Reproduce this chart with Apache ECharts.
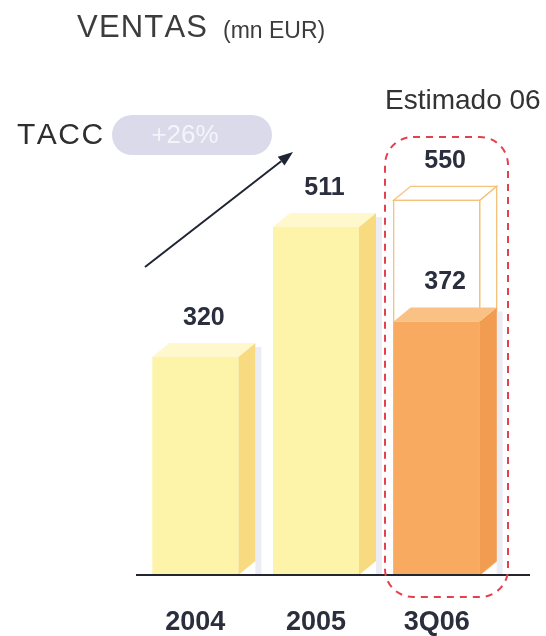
<!DOCTYPE html>
<html>
<head>
<meta charset="utf-8">
<script src="https://cdn.jsdelivr.net/npm/echarts@6/dist/echarts.min.js"></script>
<style>
  html, body { margin: 0; padding: 0; background: #ffffff; }
  #chart { width: 546px; height: 636px; }
</style>
</head>
<body>
<div id="chart"></div>
<script>
// Sales (mn EUR) per period
const categories = ['2004', '2005', '3Q06'];
const actualSales = [320, 511, 372];
const estimatedSales = [null, null, 550];
const growthText = '+26%';

const FONT = '"Liberation Sans", Arial, sans-serif';
const BAR_W = 86;   // front face width
const DX = 17;      // depth offset, horizontal
const DY = 14;      // depth offset, vertical

const palettes = [
  { front: '#fdf4aa', top: '#fef8cc', side: '#f8da80' },
  { front: '#fdf4aa', top: '#fef8cc', side: '#f8da80' },
  { front: '#f7aa60', top: '#f9c184', side: '#f29c52' }
];

function boxShapes(api, idx, value, style, labelColor) {
  const top = api.coord([idx, value]);
  const base = api.coord([idx, 0]);
  const xl = top[0] - BAR_W / 2;
  const xr = top[0] + BAR_W / 2;
  const yt = top[1];
  const yb = base[1];
  return [
    { type: 'rect', shape: { x: xr + DX, y: yt - DY + 4, width: 6, height: yb - yt + DY - 4 },
      style: { fill: '#ececf4' }, silent: true },
    { type: 'polygon', shape: { points: [[xr, yt], [xr + DX, yt - DY], [xr + DX, yb - DY], [xr, yb]] },
      style: style.side },
    { type: 'polygon', shape: { points: [[xl, yt], [xl + DX, yt - DY], [xr + DX, yt - DY], [xr, yt]] },
      style: style.top },
    { type: 'rect', shape: { x: xl, y: yt, width: BAR_W, height: yb - yt },
      style: style.front },
    { type: 'text', x: top[0] + DX / 2, y: yt - DY - 25,
      style: { text: String(value), fontFamily: FONT, fontSize: 25, fontWeight: 'bold',
               fill: labelColor, align: 'center', verticalAlign: 'middle' } }
  ];
}

// Letter-spaced text, one glyph per element
const measureCtx = document.createElement('canvas').getContext('2d');
function spacedText(text, left, top, size, spacing, color) {
  measureCtx.font = size + 'px ' + FONT;
  const items = [];
  let x = left;
  for (const ch of text) {
    items.push({ type: 'text', x: x, y: top,
      style: { text: ch, fontFamily: FONT, fontSize: size, fill: color } });
    x += measureCtx.measureText(ch).width + spacing;
  }
  return items;
}

const chart = echarts.init(document.getElementById('chart'), null, { renderer: 'canvas' });

const option = {
  backgroundColor: '#ffffff',
  animation: false,
  grid: { left: 135, right: 49, top: 30, bottom: 61 },
  xAxis: {
    type: 'category',
    data: categories,
    axisLine: { show: false },
    axisTick: { show: false },
    axisLabel: { margin: 34, fontFamily: FONT, fontSize: 27, fontWeight: 'bold', color: '#2b2f3d' }
  },
  yAxis: { type: 'value', min: 0, max: 800, show: false, splitLine: { show: false } },
  series: [
    {
      // estimated full-year outline box
      type: 'custom',
      data: estimatedSales.map((v, i) => [i, v]),
      renderItem: function (params, api) {
        const v = api.value(1);
        if (v == null || isNaN(v)) return null;
        const idx = api.value(0);
        const stroke = { fill: '#ffffff', stroke: '#f4c27c', lineWidth: 1.3 };
        const shapes = boxShapes(api, idx, v, { front: stroke, top: stroke, side: stroke }, '#2b2f3d');
        shapes.shift();
        return { type: 'group', children: shapes };
      },
      z: 2
    },
    {
      // actual sales
      type: 'custom',
      data: actualSales.map((v, i) => [i, v]),
      renderItem: function (params, api) {
        const idx = api.value(0);
        const v = api.value(1);
        const p = palettes[idx];
        return {
          type: 'group',
          children: boxShapes(api, idx, v, {
            front: { fill: p.front },
            top: { fill: p.top },
            side: { fill: p.side }
          }, '#2b2f3d')
        };
      },
      z: 3
    }
  ]
};
chart.setOption(option);

// Baseline under the bars
const baseY = chart.convertToPixel({ gridIndex: 0 }, [0, 0])[1];

// Growth arrow geometry
const arrowFrom = [145, 267];
const arrowTo = [293, 152];
const ang = Math.atan2(arrowTo[1] - arrowFrom[1], arrowTo[0] - arrowFrom[0]);
const headLen = 15, headHalf = 5.5;
const hb = [arrowTo[0] - headLen * Math.cos(ang), arrowTo[1] - headLen * Math.sin(ang)];
const perp = [-Math.sin(ang) * headHalf, Math.cos(ang) * headHalf];

chart.setOption({
  graphic: [
    { type: 'line', z: 10, shape: { x1: 136, y1: baseY, x2: 530, y2: baseY },
      style: { stroke: '#23262e', lineWidth: 2 } },
    { type: 'rect', z: 20, shape: { x: 385, y: 137, width: 123, height: 460, r: 28 },
      style: { fill: 'none', stroke: '#e5404e', lineWidth: 2, lineDash: [7, 6] } },
    { type: 'group', children: spacedText('VENTAS', 77, 13, 31, 1.2, '#3c3c3c') },
    { type: 'text', left: 223, top: 20,
      style: { text: '(mn EUR)', fontFamily: FONT, fontSize: 23, fill: '#3c3c3c' } },
    { type: 'text', left: 385, top: 87,
      style: { text: 'Estimado 06', fontFamily: FONT, fontSize: 28, fill: '#333333' } },
    { type: 'group', children: spacedText('TACC', 17, 121, 30, 1.5, '#2e2e2e') },
    { type: 'rect', shape: { x: 112, y: 115, width: 160, height: 40, r: 20 },
      style: { fill: '#dadaeb' } },
    { type: 'text', x: 185, y: 136,
      style: { text: growthText, fontFamily: FONT, fontSize: 26, fill: '#f4f4fa',
               align: 'center', verticalAlign: 'middle' } },
    { type: 'line', shape: { x1: arrowFrom[0], y1: arrowFrom[1], x2: hb[0], y2: hb[1] },
      style: { stroke: '#1f2433', lineWidth: 2 } },
    { type: 'polygon', shape: { points: [arrowTo, [hb[0] + perp[0], hb[1] + perp[1]], [hb[0] - perp[0], hb[1] - perp[1]]] },
      style: { fill: '#1f2433' } }
  ]
});
</script>
</body>
</html>
